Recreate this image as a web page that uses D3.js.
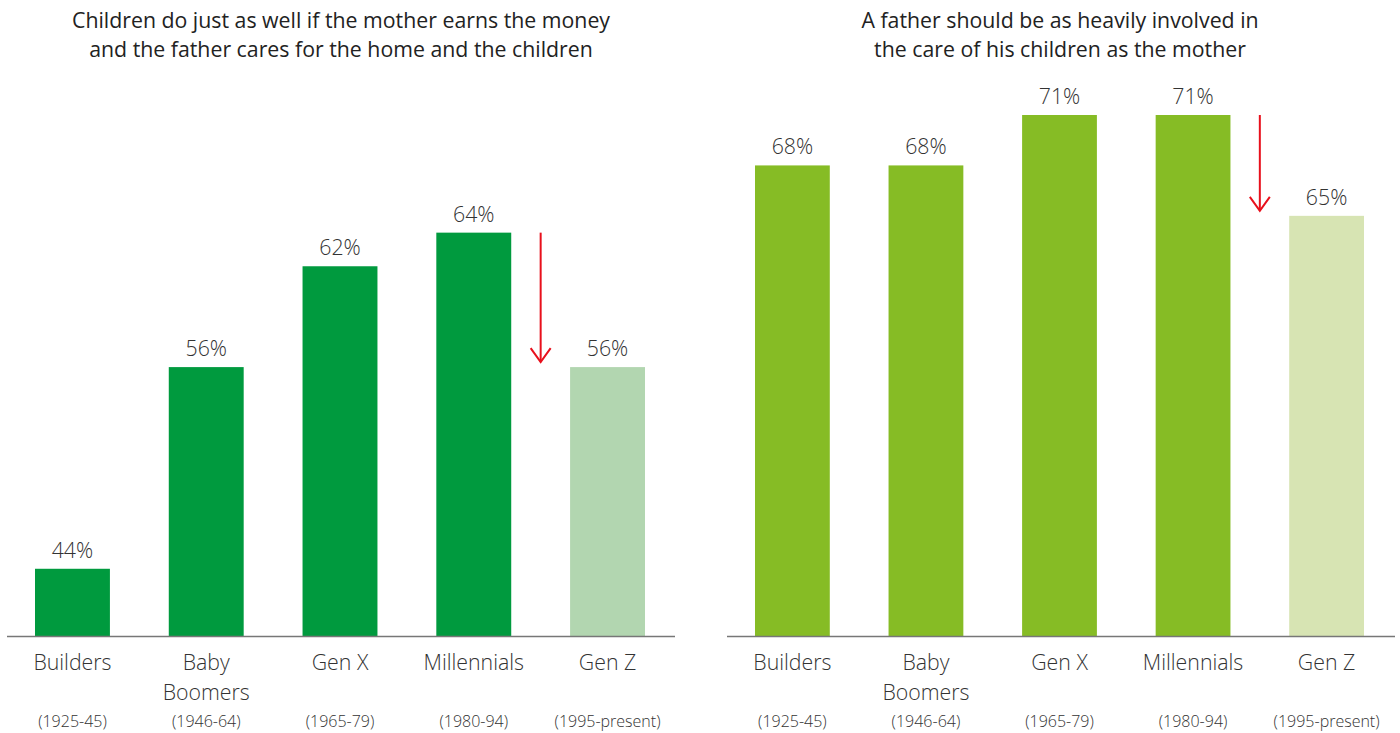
<!DOCTYPE html>
<html>
<head>
<meta charset="utf-8">
<script src="https://cdn.jsdelivr.net/npm/d3@7"></script>
<style>
  html, body { margin: 0; padding: 0; background: #fff; }
  svg { display: block; font-family: "Open Sans", sans-serif; }
</style>
</head>
<body>
<svg id="chart" width="1400" height="733"></svg>
<script>
const generations = ["Builders", "Baby Boomers", "Gen X", "Millennials", "Gen Z"];
const generationLines = [["Builders"], ["Baby", "Boomers"], ["Gen X"], ["Millennials"], ["Gen Z"]];
const years = ["(1925-45)", "(1946-64)", "(1965-79)", "(1980-94)", "(1995-present)"];
const leftTitle = ["Children do just as well if the mother earns the money", "and the father cares for the home and the children"];
const leftValues = [44, 56, 62, 64, 56];
const rightTitle = ["A father should be as heavily involved in", "the care of his children as the mother"];
const rightValues = [68, 68, 71, 71, 65];

const svg = d3.select("#chart");
const y = d3.scaleLinear().domain([40, 71]).range([636, 115]);

const panels = [
  { title: leftTitle, values: leftValues, range: [35, 645], axis: [7, 675], titleX: 341,
    color: "#009a3e", lastColor: "#b2d6b0" },
  { title: rightTitle, values: rightValues, range: [755, 1364], axis: [727, 1395], titleX: 1060,
    color: "#86bc25", lastColor: "#d7e4b3" }
];

panels.forEach(p => {
  const g = svg.append("g");
  const x = d3.scaleBand().domain(generations).range(p.range).paddingInner(0.44).paddingOuter(0);
  const data = generations.map((k, i) => ({ k, v: p.values[i], i }));

  // title
  g.append("text")
    .attr("x", p.titleX).attr("text-anchor", "middle")
    .attr("font-size", 21.3).attr("fill", "#222")
    .selectAll("tspan").data(p.title).join("tspan")
    .attr("x", p.titleX).attr("y", (d, i) => 28 + i * 29).text(d => d);

  // bars
  g.selectAll("rect.bar").data(data).join("rect")
    .attr("class", "bar")
    .attr("x", d => x(d.k)).attr("width", x.bandwidth())
    .attr("y", d => y(d.v)).attr("height", d => y.range()[0] - y(d.v))
    .attr("fill", d => d.i === data.length - 1 ? p.lastColor : p.color);

  // value labels
  g.selectAll("text.val").data(data).join("text")
    .attr("class", "val")
    .attr("x", d => x(d.k) + x.bandwidth() / 2).attr("y", d => y(d.v) - 11)
    .attr("text-anchor", "middle").attr("font-size", 21.3).attr("font-weight", 300)
    .attr("fill", "#333").text(d => d.v + "%");

  // axis line
  g.append("line")
    .attr("x1", p.axis[0]).attr("x2", p.axis[1])
    .attr("y1", y.range()[0] + 0.5).attr("y2", y.range()[0] + 0.5)
    .attr("stroke", "#777").attr("stroke-width", 1.5);

  // category labels
  g.selectAll("text.cat").data(data).join("text")
    .attr("class", "cat")
    .attr("text-anchor", "middle").attr("font-size", 21.3).attr("font-weight", 300)
    .attr("fill", "#333")
    .each(function(d) {
      d3.select(this).selectAll("tspan").data(generationLines[d.i]).join("tspan")
        .attr("x", x(d.k) + x.bandwidth() / 2)
        .attr("y", (t, j) => 670 + j * 30).text(t => t);
    });

  // year labels
  g.selectAll("text.yr").data(data).join("text")
    .attr("class", "yr")
    .attr("x", d => x(d.k) + x.bandwidth() / 2).attr("y", 727)
    .attr("text-anchor", "middle").attr("font-size", 16).attr("font-weight", 300)
    .attr("fill", "#333").text(d => years[d.i]);

  // decline arrow between last two bars
  const a = data[data.length - 2], b = data[data.length - 1];
  const ax = (x(a.k) + x.bandwidth() + x(b.k)) / 2;
  const y0 = y(a.v), y1 = y(b.v) - 5;
  const arrow = g.append("g").attr("stroke", "#e8101c").attr("stroke-width", 2).attr("fill", "none");
  arrow.append("line").attr("x1", ax).attr("x2", ax).attr("y1", y0).attr("y2", y1);
  arrow.append("path").attr("d", `M${ax - 10},${y1 - 14} L${ax},${y1} L${ax + 10},${y1 - 14}`);
});
</script>
</body>
</html>
